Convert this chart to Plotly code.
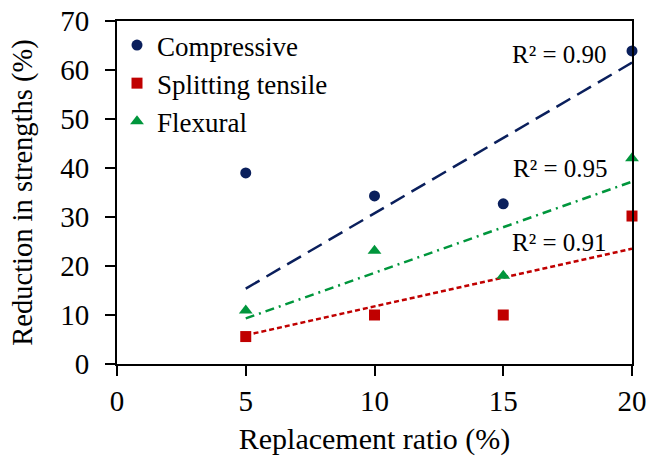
import numpy as np
import plotly.graph_objects as go

ratio = [5, 10, 15, 20]
compressive = [39.0, 34.3, 32.7, 63.9]
splitting = [5.6, 10.0, 10.0, 30.2]
flexural = [10.9, 23.1, 18.0, 42.0]
r2_labels = ["R² = 0.90", "R² = 0.95", "R² = 0.91"]
x_ticks = [0, 5, 10, 15, 20]
y_ticks = [0, 10, 20, 30, 40, 50, 60, 70]

FONT = "Liberation Serif"
series = [
    ("Compressive", compressive, "#0A1F5C", "circle", 11, "16px,8px"),
    ("Splitting tensile", splitting, "#C00000", "square", 11, "5px,3px"),
    ("Flexural", flexural, "#00963C", "triangle-up", 12, "9px,5px,2px,5px"),
]

fig = go.Figure()
xs = np.array(ratio, dtype=float)
xline = np.array([xs.min(), xs.max()])
for name, ys, color, sym, size, dash in series:
    ys = np.array(ys, dtype=float)
    slope = float((xs * ys).sum() / (xs * xs).sum())  # linear trend through origin
    fig.add_trace(go.Scatter(x=xline, y=slope * xline, mode="lines",
                             line=dict(color=color, width=2.5, dash=dash),
                             showlegend=False, hoverinfo="skip"))
for name, ys, color, sym, size, dash in series:
    fig.add_trace(go.Scatter(x=ratio, y=ys, mode="markers", name=name,
                             marker=dict(symbol=sym, size=size, color=color,
                                         line=dict(width=0)),
                             cliponaxis=False))

# R² labels
r2_pos = [(19.1, 63.2), (19.15, 40.0), (19.1, 24.7)]
for txt, (ax_, ay_) in zip(r2_labels, r2_pos):
    fig.add_annotation(x=ax_, y=ay_, text=txt, showarrow=False, xanchor="right",
                       yanchor="middle", font=dict(family=FONT, size=25, color="black"))

axis_common = dict(showline=True, linecolor="black", linewidth=2, mirror=True,
                   ticks="outside", ticklen=10, tickwidth=2, tickcolor="black",
                   showgrid=False, zeroline=False, automargin=False,
                   ticklabeloverflow="allow",
                   tickfont=dict(family=FONT, size=29, color="black"))
fig.update_xaxes(range=[0, 20], tickvals=x_ticks,
                 title=dict(text="Replacement ratio (%)", font=dict(family=FONT, size=30, color="black"),
                            standoff=12),
                 **axis_common)
fig.update_yaxes(range=[0, 70], tickvals=y_ticks, ticklabelstandoff=10,
                 title=dict(text="Reduction in strengths (%)", font=dict(family=FONT, size=28.5, color="black"),
                            standoff=19),
                 **axis_common)

fig.update_layout(
    width=646, height=463,
    margin=dict(l=117, r=14, t=21, b=99),
    paper_bgcolor="white", plot_bgcolor="white",
    font=dict(family=FONT, color="black"),
    legend=dict(x=0.0, y=1.0, xanchor="left", yanchor="top",
                font=dict(family=FONT, size=27, color="black"),
                bgcolor="rgba(0,0,0,0)", borderwidth=0, tracegroupgap=0,
                itemwidth=30),
)

fig.write_html("out.html", config={"displayModeBar": False},
               post_script="document.body.style.margin='0px';")
